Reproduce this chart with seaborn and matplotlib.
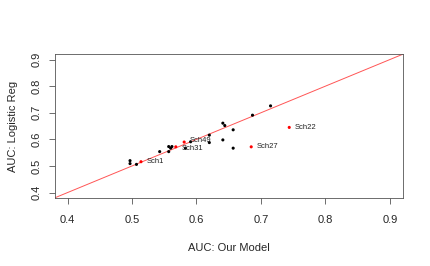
import matplotlib

matplotlib.use("Agg")
import matplotlib.pyplot as plt
import numpy as np
import pandas as pd
import seaborn as sns

# AUC per school: our model (x) vs logistic regression (y)
our_auc = [0.497, 0.497, 0.507, 0.514, 0.543, 0.557, 0.557, 0.560, 0.562,
           0.568, 0.581, 0.583, 0.591, 0.620, 0.620, 0.641, 0.644, 0.641,
           0.657, 0.657, 0.685, 0.687, 0.715, 0.744]
lr_auc = [0.520, 0.509, 0.506, 0.516, 0.554, 0.554, 0.573, 0.567, 0.573,
          0.572, 0.590, 0.567, 0.591, 0.616, 0.588, 0.661, 0.652, 0.598,
          0.636, 0.567, 0.572, 0.691, 0.726, 0.645]
labels = ["", "", "", "Sch1", "", "", "", "", "", "Sch31", "Sch49", "", "",
          "", "", "", "", "", "", "", "Sch27", "", "", "Sch22"]
ticks = [0.4, 0.5, 0.6, 0.7, 0.8, 0.9]

df = pd.DataFrame({"our": our_auc, "lr": lr_auc, "label": labels})
df["flag"] = np.where(df["label"] != "", "named", "other")

sns.set_theme(style="white")
plt.rcParams["font.family"] = ["Liberation Sans", "DejaVu Sans"]

fig, ax = plt.subplots(figsize=(4.3, 2.66), dpi=100)
fig.subplots_adjust(left=0.127, right=0.9365, top=0.796, bottom=0.256)

ax.plot([0, 1], [0, 1], color="#ff5555", linewidth=0.7, zorder=1)
sns.scatterplot(
    data=df, x="our", y="lr", hue="flag",
    palette={"other": "black", "named": "red"},
    s=5, edgecolor="none", legend=False, ax=ax, zorder=2,
)
for _, row in df[df["flag"] == "named"].iterrows():
    # Sch49 and Sch31 sit close; nudge them apart a little
    dy = {"Sch49": 1.0, "Sch31": -1.0}.get(row["label"], 0)
    ax.annotate(row["label"], (row["our"], row["lr"]), xytext=(4, dy),
                textcoords="offset points", va="center", ha="left",
                fontsize=5.5, color="#222222")

ax.set_xlim(0.38, 0.92)
ax.set_ylim(0.38, 0.92)
ax.set_xticks(ticks)
ax.set_yticks(ticks)
ax.set_xticklabels([f"{t:.1f}" for t in ticks], fontsize=8)
ax.set_yticklabels([f"{t:.1f}" for t in ticks], fontsize=8, rotation=90, va="center")
ax.tick_params(axis="x", direction="out", length=4, width=0.6,
               color="#555555", pad=8, bottom=True)
ax.tick_params(axis="y", direction="out", length=4, width=0.6,
               color="#555555", pad=5, left=True)
for sp in ax.spines.values():
    sp.set_color("#555555")
    sp.set_linewidth(0.6)
ax.set_xlabel("AUC: Our Model", fontsize=8, labelpad=13)
ax.set_ylabel("AUC: Logistic Reg", fontsize=8, labelpad=10)

fig.savefig("out.png", dpi=100)
plt.close(fig)
